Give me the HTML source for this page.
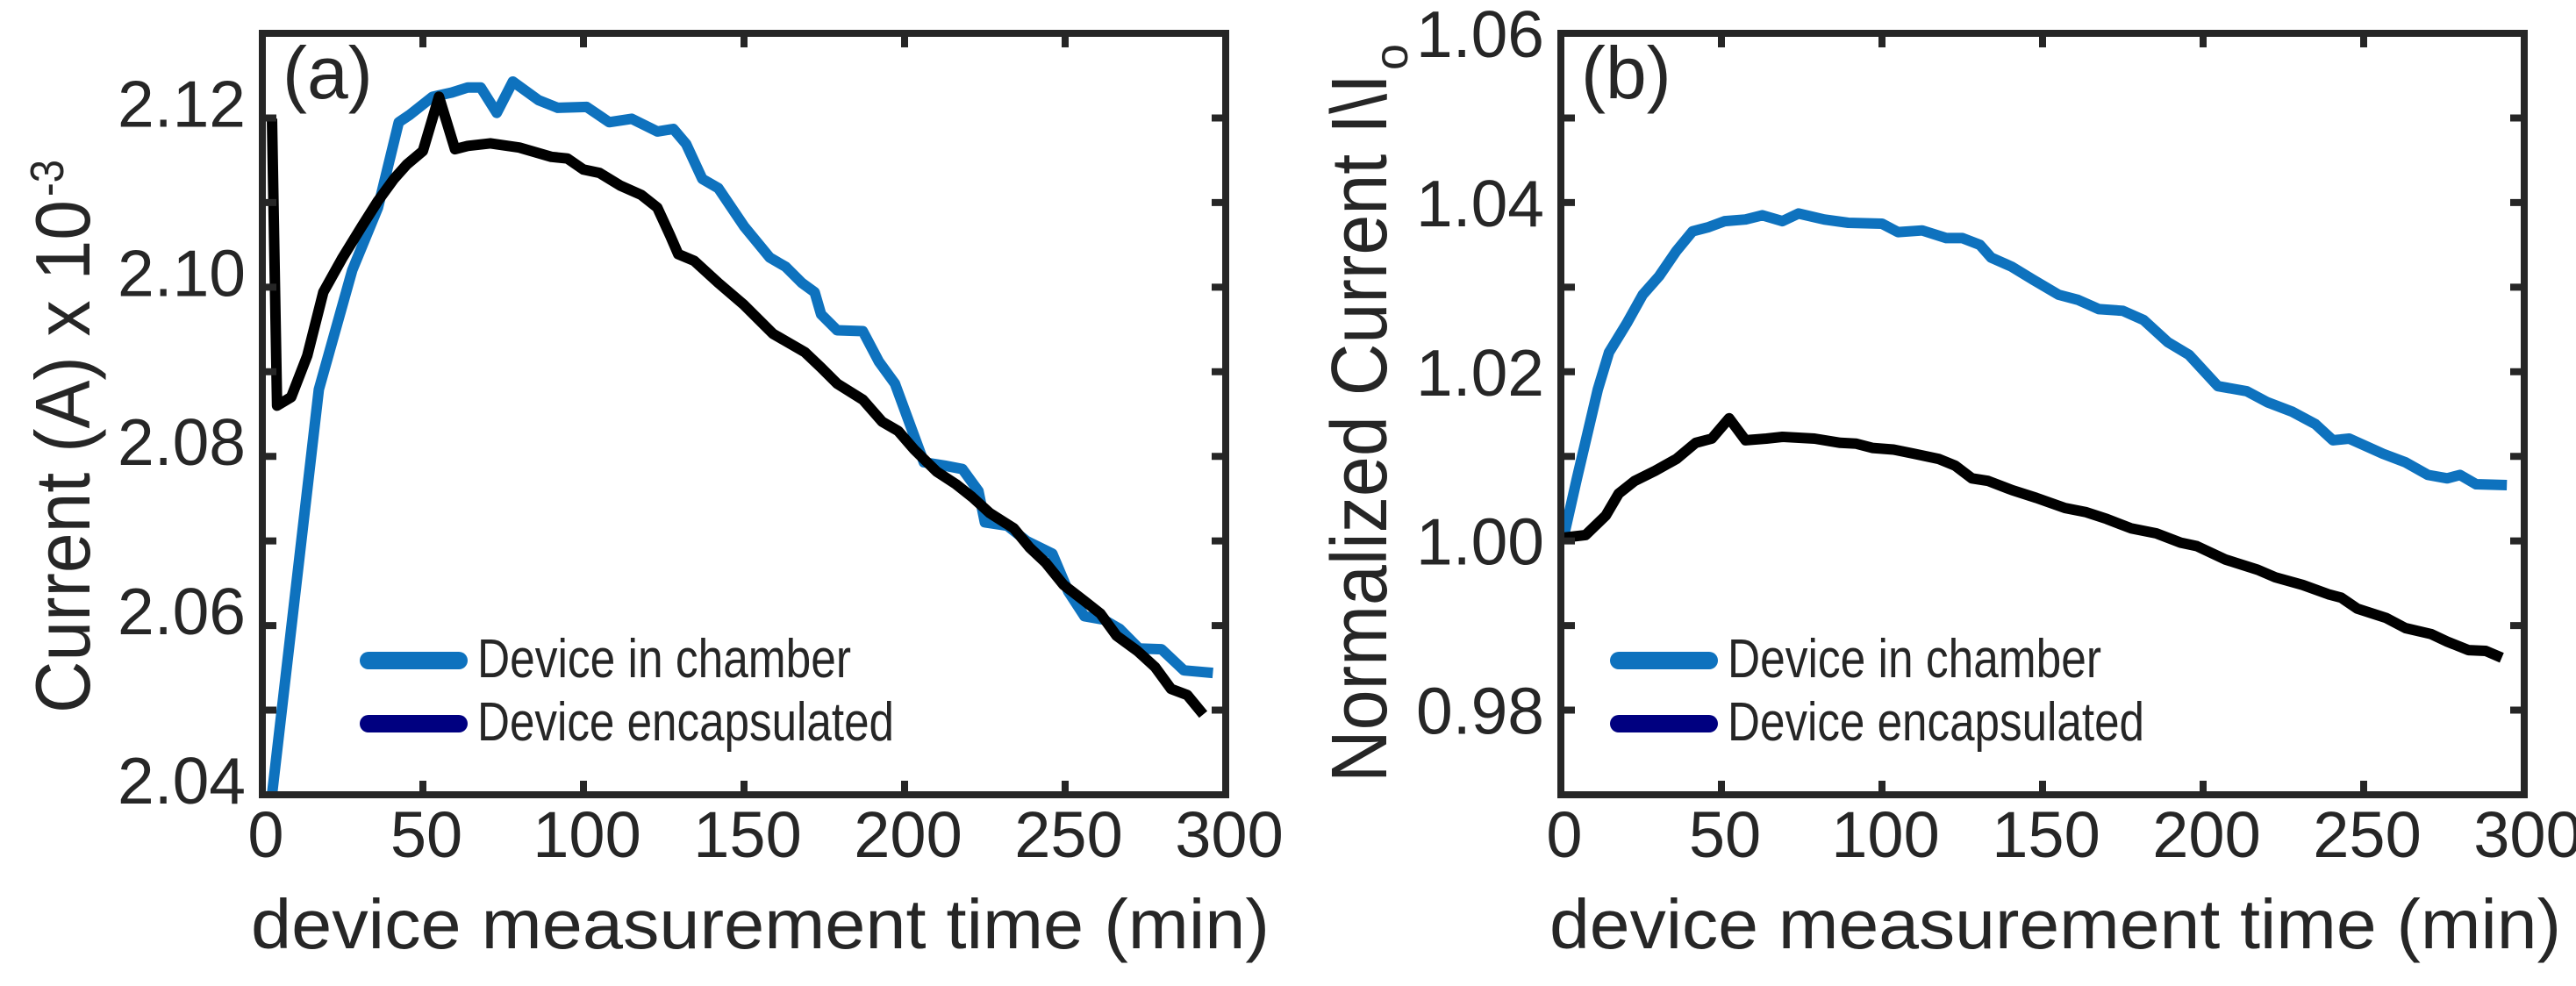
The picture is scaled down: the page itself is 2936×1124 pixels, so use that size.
<!DOCTYPE html>
<html><head><meta charset="utf-8"><style>
html,body{margin:0;padding:0;background:#fff;}
svg{display:block;}
text{font-family:"Liberation Sans",Arial,sans-serif;fill:#262626;}
</style></head>
<body>
<svg id="chart" width="2936" height="1124" viewBox="0 0 2936 1124" xmlns="http://www.w3.org/2000/svg">
<g id="pa"></g>
<g id="pb"></g>
</svg>
<script>
const xTicks = [0, 50, 100, 150, 200, 250, 300];
const yTicksA = [2.04, 2.05, 2.06, 2.07, 2.08, 2.09, 2.10, 2.11, 2.12, 2.13];
const yLabelsA = ['2.04', '', '2.06', '', '2.08', '', '2.10', '', '2.12', ''];
const yTicksB = [0.97, 0.98, 0.99, 1.00, 1.01, 1.02, 1.03, 1.04, 1.05, 1.06];
const yLabelsB = ['', '0.98', '', '1.00', '', '1.02', '', '1.04', '', '1.06'];

const tA_chamber = [3,17.6,28,36,42.5,46,53,59,64,68,73,78,86,92,101,108,115,123,128,132,137,142,150,158,163,168,172,174,179,187,192,197,206,212.5,218,223,225,232,238,246,251,256,262,267,273,280,287,296];
const vA_chamber = [2.040,2.0879,2.102,2.1094,2.1195,2.1204,2.1225,2.123,2.1236,2.1236,2.1206,2.1243,2.1221,2.1212,2.1213,2.1195,2.1199,2.1184,2.1187,2.1169,2.1128,2.1117,2.1072,2.1035,2.1024,2.1005,2.0994,2.0968,2.0949,2.0948,2.0912,2.0886,2.0793,2.0789,2.0785,2.0759,2.0722,2.0718,2.0700,2.0685,2.0640,2.0611,2.0607,2.0596,2.0573,2.0572,2.0547,2.0544];
const tA_encap = [3,4.6,9,14,19,25,31,36,41,45,50,55,60,64,71,80,90,95,100,105,111.5,118,123,127,129.5,134.5,142,150,159,169,174,179,187,193,198,203,210,216,221,226.5,234,239,244,249.5,256,261,266,272.5,278,283,288,293];
const vA_encap = [2.1199,2.0860,2.0870,2.0919,2.0994,2.1035,2.1072,2.1102,2.1128,2.1145,2.1161,2.1225,2.1163,2.1167,2.1170,2.1165,2.1154,2.1152,2.1139,2.1135,2.1120,2.1109,2.1094,2.1061,2.1039,2.1031,2.1005,2.0979,2.0945,2.0923,2.0905,2.0886,2.0867,2.0841,2.0830,2.0808,2.0782,2.0767,2.0752,2.0733,2.0715,2.0692,2.0674,2.0648,2.0629,2.0614,2.0588,2.0570,2.0551,2.0525,2.0518,2.0495];

const tB_chamber = [1,5,11.5,15,20.5,25.5,30.6,36,41,46,51,57.5,62.7,69,74,82,89.5,100,105,112.5,120,125,130.5,134,140.5,147,155,161,167.5,175,181.5,189,195.6,204.6,213.6,220,227.6,235,240.4,245.5,256,263,270,276,280,285,294.6];
const vB_chamber = [1.0007,1.0074,1.0179,1.0223,1.0257,1.0291,1.0313,1.0343,1.0366,1.0371,1.0378,1.0380,1.0385,1.0378,1.0387,1.0380,1.0376,1.0375,1.0365,1.0367,1.0358,1.0358,1.0350,1.0335,1.0324,1.0309,1.0291,1.0285,1.0274,1.0272,1.0261,1.0235,1.0220,1.0183,1.0177,1.0164,1.0153,1.0138,1.0119,1.0121,1.0103,1.0093,1.0078,1.0074,1.0078,1.0067,1.0066];
const tB_encap = [1,7.7,14,18,23,29.4,36,42,47,52.4,57.5,64,69,79,87,92,97,103.6,110,117.6,122.8,128,133,140.6,148,157,163.6,170,177.5,185.4,193,198,207,217,222.5,231,239,243,248,257,263,271,276,282.6,288,293];
const vB_encap = [1.0004,1.0007,1.0030,1.0056,1.0071,1.0083,1.0097,1.0116,1.0121,1.0145,1.0119,1.0121,1.0123,1.0121,1.0116,1.0115,1.0110,1.0108,1.0103,1.0097,1.0089,1.0074,1.0071,1.0060,1.0051,1.0039,1.0034,1.0026,1.0015,1.0009,0.9998,0.9994,0.9978,0.9966,0.9957,0.9948,0.9937,0.9933,0.9920,0.9909,0.9897,0.9890,0.9881,0.9871,0.9870,0.9862];

const NS='http://www.w3.org/2000/svg';
const TOP=38, BOT=906;
function mk(parent, tag, attrs, txt){
  const e=document.createElementNS(NS,tag);
  for(const k in attrs) e.setAttribute(k,attrs[k]);
  if(txt!==undefined) e.textContent=txt;
  parent.appendChild(e); return e;
}
function panel(g, L, R, ymin, ymax, yT, yL, labelDy, series, tag, legX){
  const sx=v=>L+(v-0)/(300-0)*(R-L);
  const sy=v=>BOT-(v-ymin)/(ymax-ymin)*(BOT-TOP);
  // series
  series.forEach(s=>{
    const d=s.t.map((t,i)=>(i?'L':'M')+sx(t).toFixed(1)+','+sy(s.v[i]).toFixed(1)).join(' ');
    const p=mk(g,'path',{d:d,fill:'none',stroke:s.color,'stroke-width':12,'stroke-linejoin':'round','stroke-linecap':'butt'});
    
    
  });
  // ticks
  xTicks.forEach(t=>{
    const x=sx(t);
    const a=mk(g,'path',{d:`M${x},${BOT}V${BOT-16}M${x},${TOP}V${TOP+16}`,stroke:'#262626','stroke-width':8});
    
    
    const l=mk(g,'text',{x:x+4,y:977,'font-size':74,'text-anchor':'middle'},String(t));
    
    
  });
  yT.forEach((v,i)=>{
    const y=sy(v);
    const a=mk(g,'path',{d:`M${L},${y}H${L+16}M${R},${y}H${R-16}`,stroke:'#262626','stroke-width':8});
    
    
    if(yL[i]){
      const l=mk(g,'text',{x:L-19,y:y+labelDy,'font-size':75,'text-anchor':'end'},yL[i]);
      
      
    }
  });
  const box=mk(g,'rect',{x:L,y:TOP,width:R-L,height:BOT-TOP,fill:'none',stroke:'#262626','stroke-width':8});
  
  
  const tg=mk(g,'text',{x:L+23,y:112,'font-size':84,fill:'#000'},tag);
  
  
  // legend
  const cols=['#0e72be','#000080'];
  const names=['Device in chamber','Device encapsulated'];
  const lens=[426,475];
  [753,825].forEach((y,i)=>{
    const ln=mk(g,'line',{x1:legX,y1:y,x2:legX+103,y2:y,stroke:cols[i],'stroke-width':20,'stroke-linecap':'round'});
    
    
    const tx=mk(g,'text',{x:legX+124,y:y+19,'font-size':62,fill:'#000',textLength:lens[i],lengthAdjust:'spacingAndGlyphs'},names[i]);
    
    
  });
}
const pa=document.getElementById('pa'), pb=document.getElementById('pb');
panel(pa,299,1397,2.04,2.13,yTicksA,yLabelsA,10,
  [{t:tA_chamber,v:vA_chamber,color:'#0e72be',name:'line-chamber'},{t:tA_encap,v:vA_encap,color:'#000',name:'line-encapsulated'}],'(a)',420);
panel(pb,1779,2877,0.97,1.06,yTicksB,yLabelsB,27,
  [{t:tB_chamber,v:vB_chamber,color:'#0e72be',name:'line-chamber'},{t:tB_encap,v:vB_encap,color:'#000',name:'line-encapsulated'}],'(b)',1845);

// axis titles
let t;
t=mk(pa,'text',{x:286,y:1081,'font-size':80,textLength:1161,lengthAdjust:'spacingAndGlyphs'},'device measurement time (min)');


t=mk(pb,'text',{x:1766,y:1081,'font-size':80,textLength:1153,lengthAdjust:'spacingAndGlyphs'},'device measurement time (min)');


t=mk(pa,'text',{x:0,y:0,'font-size':88,textLength:585,lengthAdjust:'spacingAndGlyphs',transform:'translate(102,813) rotate(-90)'},'Current (A) x 10');


t=mk(pa,'text',{x:0,y:0,'font-size':54,textLength:42,lengthAdjust:'spacingAndGlyphs',transform:'translate(72,224) rotate(-90)'},'-3');


t=mk(pb,'text',{x:0,y:0,'font-size':90,textLength:808,lengthAdjust:'spacingAndGlyphs',transform:'translate(1580,892) rotate(-90)'},'Normalized Current I\\I');


t=mk(pb,'text',{x:0,y:0,'font-size':54,transform:'translate(1604,80) rotate(-90)'},'o');


</script>
</body></html>
